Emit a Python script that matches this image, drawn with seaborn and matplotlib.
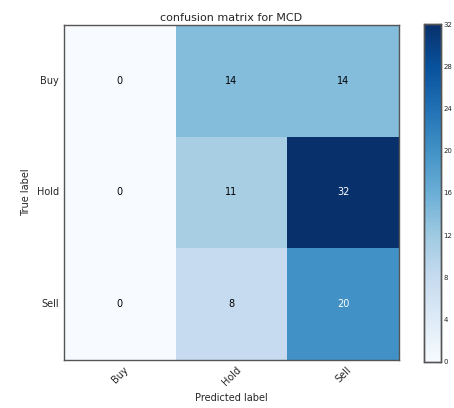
import numpy as np
import pandas as pd
import matplotlib
matplotlib.use("Agg")
import matplotlib.pyplot as plt
import seaborn as sns

classes = ["Buy", "Hold", "Sell"]
row_buy = [0, 14, 14]
row_hold = [0, 11, 32]
row_sell = [0, 8, 20]
cbar_ticks = [0, 4, 8, 12, 16, 20, 24, 28, 32]

cm = pd.DataFrame([row_buy, row_hold, row_sell], index=classes, columns=classes)

sns.set_style("white")
plt.rcParams['font.family'] = ['DejaVu Sans']

fig = plt.figure(figsize=(4.54, 4.08), dpi=100)
ax = fig.add_axes([0.141, 0.118, 0.738, 0.821])
cax = fig.add_axes([0.934, 0.113, 0.038, 0.828])

thresh = cm.values.max() / 2.0
sns.heatmap(cm, ax=ax, cbar_ax=cax, cmap="Blues", vmin=0, vmax=32,
            annot=False, square=False, linewidths=0,
            cbar_kws={"ticks": cbar_ticks})
for i in range(cm.shape[0]):
    for j in range(cm.shape[1]):
        v = cm.values[i, j]
        ax.text(j + 0.5, i + 0.5, f"{v:d}", ha="center", va="center",
                fontsize=7, color="white" if v > thresh else "black")

ax.set_title("confusion matrix for MCD", fontsize=8, pad=3)
ax.set_xlabel("Predicted label", fontsize=7)
ax.set_ylabel("True label", fontsize=7)
ax.set_xticks([0.5, 1.5, 2.5])
ax.set_yticks([0.5, 1.5, 2.5])
ax.set_xticklabels(classes, rotation=45, fontsize=7)
ax.set_yticklabels(classes, rotation=0, fontsize=7)
ax.tick_params(axis="both", which="both", direction="in", length=3,
               top=True, right=True, bottom=True, left=True, color="#888888")
for s in ax.spines.values():
    s.set_visible(True)
    s.set_color("#555555")
    s.set_linewidth(1.0)
cax.tick_params(labelsize=5, direction="in", length=3, pad=1.5, color="#555555")
for s in cax.spines.values():
    s.set_visible(True)
    s.set_color("#555555")
    s.set_linewidth(1.0)

fig.savefig("out.png", dpi=100)
